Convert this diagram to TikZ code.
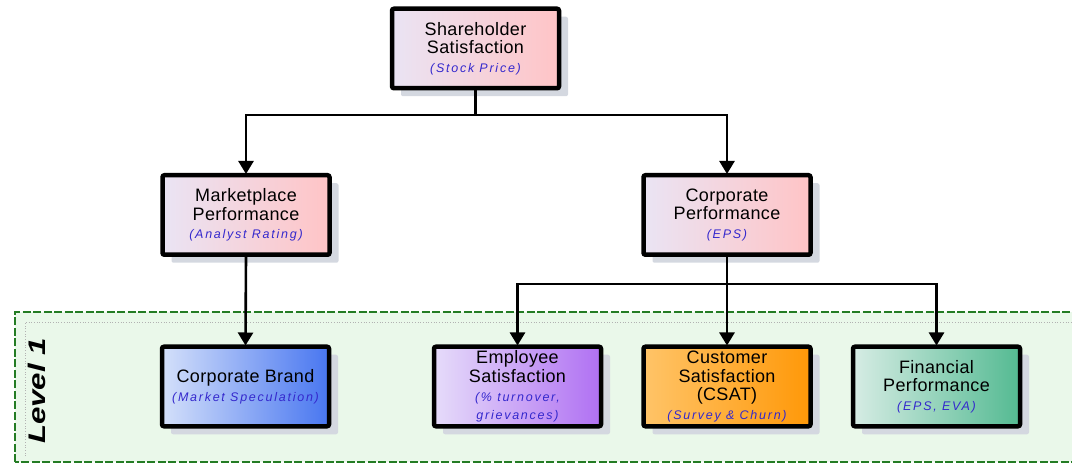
\documentclass[tikz,border=0pt]{standalone}
\usepackage{fontspec}
\setmainfont{Liberation Sans}
\newfontfamily\boxfont[LetterSpace=2]{Liberation Sans}
\newfontfamily\subfont[LetterSpace=14]{Liberation Sans}
\usetikzlibrary{arrows.meta}

\definecolor{subblue}{RGB}{52,40,205}
\definecolor{shadowc}{RGB}{212,216,224}
\definecolor{lvlgreen}{RGB}{36,124,36}
\definecolor{lvlfill}{RGB}{234,248,234}

\newcommand\subt[1]{{\subfont\itshape\fontsize{12.5}{15}\selectfont\color{subblue}#1}}

\tikzset{
  kpibox/.style={draw=black, line width=4.5pt, rounded corners=2pt,
    minimum width=167pt, minimum height=79.5pt, inner sep=0pt,
    align=center, font=\boxfont\fontsize{18}{18.6}\selectfont,
    preaction={fill=shadowc, draw=none,
      transform canvas={shift={(9pt,-8pt)}}}},
  pinkbox/.style={kpibox, left color={rgb,255:red,234;green,228;blue,244},
    right color={rgb,255:red,255;green,196;blue,198}},
  bluebox/.style={kpibox, left color={rgb,255:red,212;green,224;blue,250},
    right color={rgb,255:red,72;green,118;blue,240}},
  purplebox/.style={kpibox, left color={rgb,255:red,230;green,220;blue,250},
    right color={rgb,255:red,176;green,112;blue,242}},
  orangebox/.style={kpibox, left color={rgb,255:red,255;green,196;blue,104},
    right color={rgb,255:red,255;green,152;blue,8}},
  greenbox/.style={kpibox, left color={rgb,255:red,214;green,236;blue,228},
    right color={rgb,255:red,84;green,186;blue,146}},
  link/.style={draw=black, line width=2.6pt},
  arrowlink/.style={link, -{Triangle[width=15pt,length=13pt]}, shorten >=-1pt},
}

\begin{document}
\begin{tikzpicture}[x=1pt,y=1pt]
\useasboundingbox (0,0) rectangle (1072,464);
\clip (0,0) rectangle (1072,464);

% Level 1 band
\filldraw[fill=lvlfill, draw=lvlgreen, line width=2.8pt,
  dash pattern=on 8pt off 2.5pt] (15,2) rectangle (1090,152);
\draw[gray!60, line width=0.7pt, dotted] (25,8) -- (25,142) -- (1090,142);
\node[rotate=90, font=\bfseries\itshape\fontsize{24}{24}\selectfont]
  (lvl) at (37,73) {\scalebox{1.3}[1]{Level 1}};

% boxes
\node[pinkbox] (tb) at (475.5,415.5)
  {Shareholder\\Satisfaction\\\subt{(Stock Price)}};
\node[pinkbox] (mp) at (246,249)
  {Marketplace\\Performance\\\subt{(Analyst Rating)}};
\node[pinkbox] (cp) at (727,249)
  {Corporate\\Performance\\\subt{(EPS)}};
\node[bluebox] (cb) at (245.5,77.5)
  {Corporate Brand\\\subt{(Market Speculation)}};
\node[purplebox] (emp) at (517.5,77.5)
  {Employee\\Satisfaction\\\subt{(\% turnover,}\\\subt{grievances)}};
\node[orangebox] (cs) at (727,77.5)
  {Customer\\Satisfaction\\(CSAT)\\\subt{(Survey \& Churn)}};
\node[greenbox] (fp) at (936.5,77.5)
  {Financial\\Performance\\\subt{(EPS, EVA)}};

% connectors
\coordinate (j1) at (475.5,349);
\coordinate (j2) at (727,180);
\draw[link] (tb.south) -- (j1);
\draw[arrowlink] (j1) -| (mp.north);
\draw[arrowlink] (j1) -| (cp.north);
\draw[arrowlink] (mp.south) -- (cb.north);
\draw[link] (cp.south) -- (j2);
\draw[arrowlink] (j2) -| (emp.north);
\draw[arrowlink] (j2) -- (cs.north);
\draw[arrowlink] (j2) -| (fp.north);
\end{tikzpicture}
\end{document}
